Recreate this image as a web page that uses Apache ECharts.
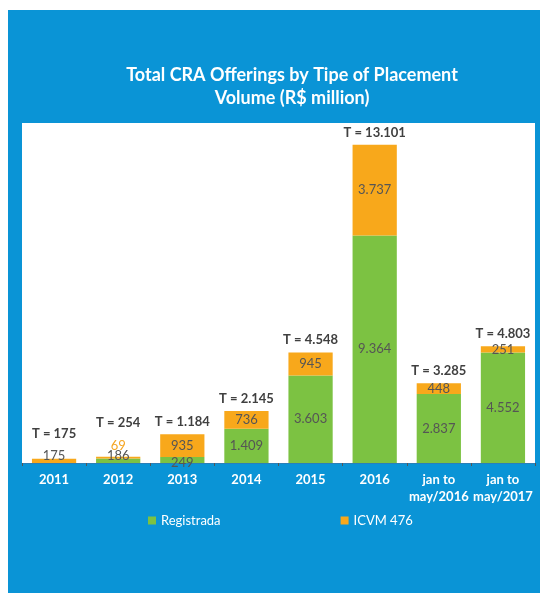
<!DOCTYPE html>
<html>
<head>
<meta charset="utf-8">
<script src="https://cdn.jsdelivr.net/npm/echarts@6/dist/echarts.min.js"></script>
<style>
  body { margin: 0; background: #fff; }
  .panel { position: absolute; left: 8px; top: 10px; width: 532px; height: 583px; background: #0a94d6; }
  #chart { position: absolute; left: 0; top: 0; width: 540px; height: 593px; }
</style>
</head>
<body>
<div class="panel"></div>
<div id="chart"></div>
<script>
var categories = ['2011', '2012', '2013', '2014', '2015', '2016', 'jan to\nmay/2016', 'jan to\nmay/2017'];
var registrada = [0, 186, 249, 1409, 3603, 9364, 2837, 4552];
var icvm = [175, 69, 935, 736, 945, 3737, 448, 251];
var totals = ['175', '254', '1.184', '2.145', '4.548', '13.101', '3.285', '4.803'];
var totalValues = [175, 254, 1184, 2145, 4548, 13101, 3285, 4803];

function fmt(v) {
  // thousands with a dot, like the picture
  return String(v).replace(/\B(?=(\d{3})+(?!\d))/g, '.');
}

var labelStyle = { show: true, position: 'inside', color: '#555', fontSize: 13, fontFamily: 'Lato' };

var regData = registrada.map(function (v, i) {
  var d = { value: v };
  if (v === 0) d.label = { show: false };
  if (i === 1) d.label = { position: 'top', distance: -4 };
  if (i === 2) d.label = { position: 'insideBottom', distance: -6 };
  return d;
});
var icvmData = icvm.map(function (v, i) {
  var d = { value: v };
  if (i === 0) d.label = { position: 'top', distance: -4 };
  if (i === 1) d.label = { position: 'top', distance: 4, color: '#f5a623' };
  return d;
});
var totalData = totalValues.map(function (v, i) {
  var d = { value: v };
  if (i === 0) d.label = { distance: 18 };
  if (i === 1) d.label = { distance: 28 };
  return d;
});

var mchart = echarts.init(document.getElementById('chart'));
var option = {
  title: {
    text: 'Total CRA Offerings by Tipe of Placement\nVolume (R$ million)',
    left: 287,
    top: 59,
    textAlign: 'center',
    textStyle: { color: '#fff', fontSize: 18, fontWeight: 'bold', fontFamily: 'Lato', lineHeight: 23 }
  },
  legend: {
    data: ['Registrada', 'ICVM 476'],
    left: 143,
    top: 509,
    icon: 'rect',
    itemWidth: 8,
    itemHeight: 8,
    itemGap: 120,
    textStyle: { color: '#fff', fontSize: 13, fontFamily: 'Lato' }
  },
  grid: {
    left: 22,
    right: 5,
    top: 123,
    bottom: 130,
    show: true,
    backgroundColor: '#fff',
    borderWidth: 0
  },
  xAxis: {
    type: 'category',
    data: categories,
    axisLine: { lineStyle: { color: '#2a7fb8', width: 1 } },
    axisTick: { show: true, length: 3, lineStyle: { color: '#555' } },
    axisLabel: { color: '#fff', fontSize: 13, fontWeight: 'bold', fontFamily: 'Lato', lineHeight: 17, margin: 8, interval: 0 }
  },
  yAxis: {
    type: 'value',
    min: 0,
    max: 14000,
    show: false,
    splitLine: { show: false }
  },
  series: [
    {
      name: 'Registrada',
      type: 'bar',
      stack: 'total',
      barCategoryGap: '31%',
      itemStyle: { color: '#7cc242' },
      label: Object.assign({}, labelStyle, { formatter: function (p) { return fmt(p.value); } }),
      data: regData
    },
    {
      name: 'ICVM 476',
      type: 'bar',
      stack: 'total',
      itemStyle: { color: '#f8a81b' },
      label: Object.assign({}, labelStyle, { formatter: function (p) { return fmt(p.value); } }),
      data: icvmData
    },
    {
      name: 'T',
      type: 'bar',
      barGap: '-100%',
      itemStyle: { color: 'rgba(0,0,0,0)' },
      silent: true,
      z: 5,
      label: {
        show: true,
        position: 'top',
        distance: 6,
        color: '#404040',
        fontSize: 13,
        fontWeight: 'bold',
        fontFamily: 'Lato',
        formatter: function (p) { return 'T = ' + totals[p.dataIndex]; }
      },
      data: totalData
    }
  ]
};
mchart.setOption(option);
</script>
</body>
</html>
